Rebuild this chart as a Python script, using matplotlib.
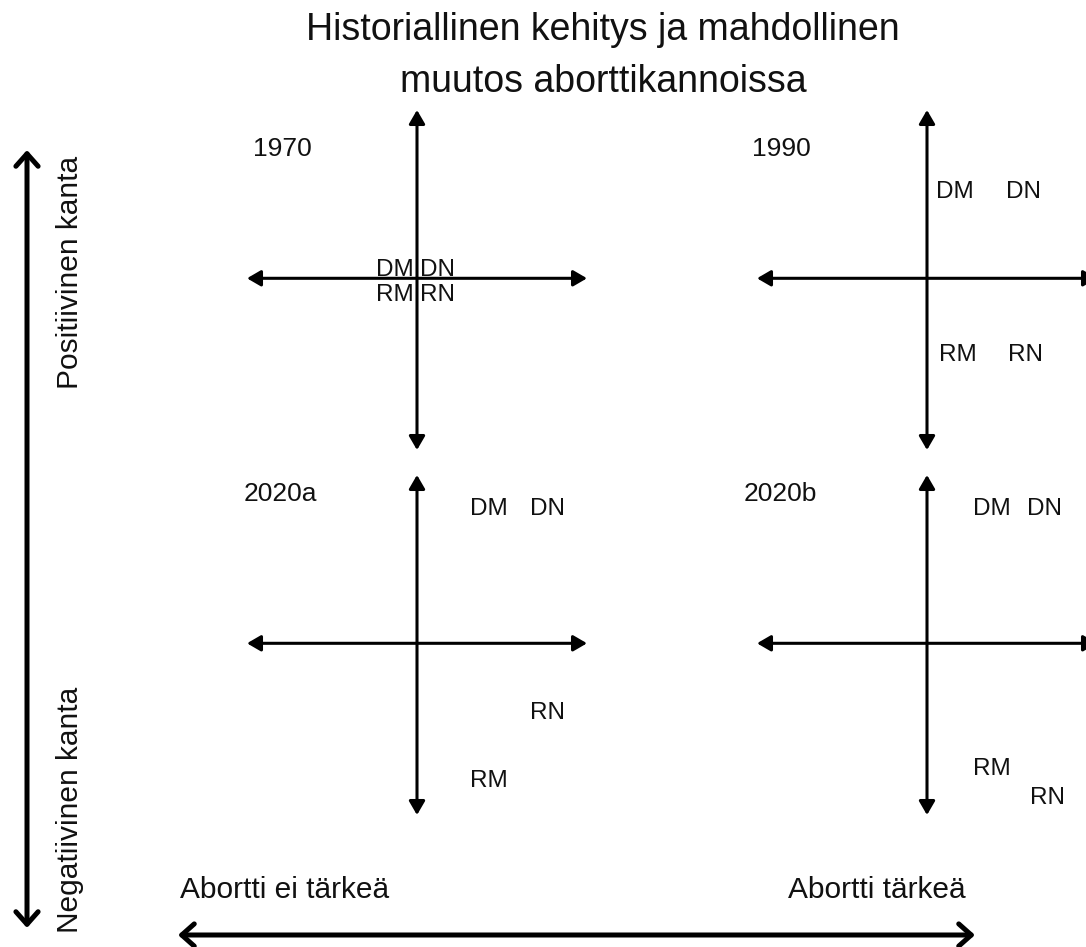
import matplotlib.pyplot as plt

plt.rcParams['font.family'] = ['Liberation Sans', 'DejaVu Sans']

# party groups shown in every panel
groups = ['DM', 'DN', 'RM', 'RN']

# panel titles
panels = ['1970', '1990', '2020a', '2020b']

# positions per panel (x: importance of abortion, y: stance), scale -1..1
x_1970 = [-0.13, 0.12, -0.13, 0.12]
y_1970 = [0.06, 0.06, -0.09, -0.09]
x_1990 = [0.165, 0.565, 0.18, 0.58]
y_1990 = [0.52, 0.52, -0.44, -0.44]
x_2020a = [0.42, 0.77, 0.42, 0.77]
y_2020a = [0.8, 0.8, -0.8, -0.4]
x_2020b = [0.38, 0.69, 0.38, 0.71]
y_2020b = [0.8, 0.8, -0.73, -0.9]

xs = [x_1970, x_1990, x_2020a, x_2020b]
ys = [y_1970, y_1990, y_2020a, y_2020b]

W, H = 1086, 947
fig = plt.figure(figsize=(W / 100, H / 100), dpi=100)

# panel centres in pixels, half size of the cross arrows
centres = [(417, 280), (927, 280), (417, 645), (927, 645)]
half = 170

for name, (cx, cy), px, py in zip(panels, centres, xs, ys):
    ax = fig.add_axes([(cx - half) / W, 1 - (cy + half) / H, 2 * half / W, 2 * half / H])
    ax.set_xlim(-1, 1)
    ax.set_ylim(-1, 1)
    ax.axis('off')
    style = '<|-|>,head_length=0.55,head_width=0.32'
    ax.annotate('', xy=(1, 0.01), xytext=(-1, 0.01),
                arrowprops=dict(arrowstyle=style, lw=2.2, color='black',
                                mutation_scale=15, shrinkA=0, shrinkB=0),
                annotation_clip=False)
    ax.annotate('', xy=(0, 1), xytext=(0, -1),
                arrowprops=dict(arrowstyle=style, lw=2.2, color='black',
                                mutation_scale=15, shrinkA=0, shrinkB=0),
                annotation_clip=False)
    for lab, x, y in zip(groups, px, py):
        ax.text(x, y, lab, ha='center', va='center', fontsize=17.5, color='#111111')
    ty = 0.77 if name in ('1970', '1990') else 0.89
    tx = {'1970': -0.965, '1990': -1.03, '2020a': -1.02, '2020b': -1.08}[name]
    ax.text(tx, ty, name, ha='left', va='center', fontsize=19, color='#111111')

# title
fig.text(603 / W, 1 - 30 / H, 'Historiallinen kehitys ja mahdollinen',
         ha='center', va='center', fontsize=27, color='#111111')
fig.text(603 / W, 1 - 82 / H, 'muutos aborttikannoissa',
         ha='center', va='center', fontsize=27, color='#111111')

# side axes
side = dict(arrowstyle='<->,head_length=0.45,head_width=0.4', lw=3.6, color='black',
            mutation_scale=20, shrinkA=0, shrinkB=0, capstyle='round', joinstyle='round')
fig.add_artist(plt.Annotation('', xy=(27 / W, 1 - 150 / H), xytext=(27 / W, 1 - 928 / H),
                              xycoords='figure fraction', arrowprops=side))
fig.add_artist(plt.Annotation('', xy=(975 / W, 1 - 935 / H), xytext=(178 / W, 1 - 935 / H),
                              xycoords='figure fraction', arrowprops=side))

fig.text(70 / W, 1 - 272 / H, 'Positiivinen kanta', rotation=90,
         ha='center', va='center', fontsize=21.5, color='#111111')
fig.text(70 / W, 1 - 810 / H, 'Negatiivinen kanta', rotation=90,
         ha='center', va='center', fontsize=21.5, color='#111111')
fig.text(180 / W, 1 - 890 / H, 'Abortti ei tärkeä', ha='left', va='center',
         fontsize=21.5, color='#111111')
fig.text(788 / W, 1 - 890 / H, 'Abortti tärkeä', ha='left', va='center',
         fontsize=21.5, color='#111111')

fig.savefig('out.png', dpi=100)
